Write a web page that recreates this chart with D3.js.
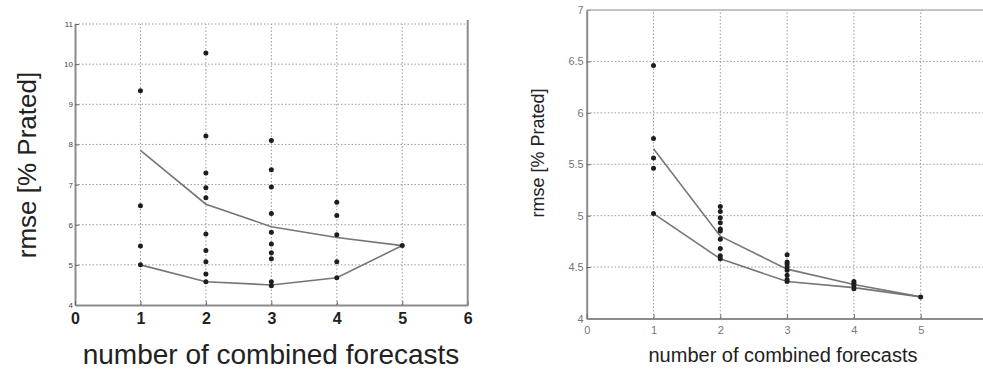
<!DOCTYPE html>
<html>
<head>
<meta charset="utf-8">
<script src="https://cdn.jsdelivr.net/npm/d3@7"></script>
<style>
  body { margin: 0; background: #fff; }
  svg { display: block; }
  text { font-family: "Liberation Sans", Arial, sans-serif; }
</style>
</head>
<body>
<svg id="chart" width="983" height="369"></svg>
<script>
// x positions (number of combined forecasts)
const combos = [1, 2, 3, 4, 5];

// left panel: individual combinations per count, plus the two curves
const leftDots1 = [9.34, 6.47, 5.47, 5.0];
const leftDots2 = [10.28, 8.21, 7.29, 6.92, 6.67, 5.77, 5.36, 5.08, 4.77, 4.58];
const leftDots3 = [8.1, 7.37, 6.94, 6.28, 5.81, 5.52, 5.3, 5.15, 4.58, 4.48];
const leftDots4 = [6.56, 6.23, 5.75, 5.08, 4.68];
const leftDots5 = [5.48];
const leftMean = [7.85, 6.51, 5.95, 5.68, 5.48];
const leftMin = [5.0, 4.58, 4.5, 4.68, 5.48];
const leftXTicks = [0, 1, 2, 3, 4, 5, 6];
const leftYTicks = [4, 5, 6, 7, 8, 9, 10, 11];

// right panel
const rightDots1 = [6.46, 5.75, 5.56, 5.46, 5.02];
const rightDots2 = [5.09, 5.04, 4.98, 4.93, 4.87, 4.85, 4.77, 4.68, 4.61, 4.58];
const rightDots3 = [4.62, 4.55, 4.53, 4.5, 4.47, 4.42, 4.38, 4.36];
const rightDots4 = [4.36, 4.34, 4.32, 4.29];
const rightDots5 = [4.21];
const rightMean = [5.65, 4.80, 4.48, 4.33, 4.21];
const rightMin = [5.02, 4.58, 4.36, 4.30, 4.21];
const rightXTicks = [0, 1, 2, 3, 4, 5];
const rightYTicks = [4, 4.5, 5, 5.5, 6, 6.5, 7];

const yLabel = "rmse [% Prated]";
const xLabel = "number of combined forecasts";

const svg = d3.select("#chart");

function drawPanel(cfg) {
  const x = d3.scaleLinear().domain([0, 6]).range([cfg.left, cfg.right]);
  const y = d3.scaleLinear().domain(cfg.yDomain).range([cfg.bottom, cfg.top]);
  const g = svg.append("g");

  // dotted grid
  g.append("g")
    .selectAll("line.gx")
    .data(combos)
    .enter().append("line")
    .attr("x1", d => x(d)).attr("x2", d => x(d))
    .attr("y1", cfg.bottom).attr("y2", cfg.top)
    .attr("stroke", "#9a9a9a").attr("stroke-width", 1)
    .attr("stroke-dasharray", "1.5,2");
  g.append("g")
    .selectAll("line.gy")
    .data(cfg.yTicks.filter(d => d > cfg.yDomain[0] && (cfg.topGrid || d < cfg.yDomain[1])))
    .enter().append("line")
    .attr("x1", cfg.left).attr("x2", cfg.right)
    .attr("y1", d => y(d)).attr("y2", d => y(d))
    .attr("stroke", "#9a9a9a").attr("stroke-width", 1)
    .attr("stroke-dasharray", "1.5,2");

  // axes (ticks point inward, matlab style)
  const yAxis = g.append("g")
    .attr("transform", "translate(" + cfg.left + ",0)")
    .call(d3.axisLeft(y).tickValues(cfg.yTicks).tickSizeInner(-4).tickSizeOuter(0)
      .tickPadding(cfg.yPad).tickFormat(d3.format("")));
  yAxis.select(".domain").attr("stroke", "#8c8c8c").attr("stroke-width", 2);
  yAxis.selectAll(".tick line").attr("stroke", "#666");
  yAxis.selectAll("text").attr("fill", cfg.tickColor).style("font-size", cfg.yTickSize + "px");

  const xAxis = g.append("g")
    .attr("transform", "translate(0," + cfg.bottom + ")")
    .call(d3.axisBottom(x).tickValues(cfg.xTicks).tickSizeInner(-4).tickSizeOuter(0)
      .tickPadding(cfg.xPad).tickFormat(d3.format("d")));
  xAxis.select(".domain").attr("stroke", "#8c8c8c").attr("stroke-width", 2);
  xAxis.selectAll(".tick line").attr("stroke", "#666");
  xAxis.selectAll("text").attr("fill", cfg.xTickColor)
    .style("font-size", cfg.xTickSize + "px").style("font-weight", cfg.xTickWeight);

  // box edges
  if (cfg.rightBorder) {
    g.append("line").attr("x1", cfg.right).attr("x2", cfg.right)
      .attr("y1", cfg.bottom + 1).attr("y2", cfg.top - 4)
      .attr("stroke", "#8c8c8c").attr("stroke-width", 2);
  }
  if (cfg.topBorder) {
    g.append("line").attr("x1", cfg.left).attr("x2", cfg.right)
      .attr("y1", cfg.top).attr("y2", cfg.top)
      .attr("stroke", "#b0b0b0").attr("stroke-width", 1.5);
  }

  // curves
  const line = d3.line().x((d, i) => x(combos[i])).y(d => y(d));
  [cfg.mean, cfg.min].forEach(s => {
    g.append("path").datum(s).attr("d", line)
      .attr("fill", "none").attr("stroke", "#767676").attr("stroke-width", 1.6);
  });

  // dots
  cfg.dots.forEach((vals, i) => {
    g.append("g").selectAll("circle")
      .data(vals)
      .enter().append("circle")
      .attr("cx", x(combos[i])).attr("cy", d => y(d))
      .attr("r", cfg.r).attr("fill", "#1e1e1e");
  });

  // labels
  g.append("text")
    .attr("transform", "translate(" + cfg.yLabelX + "," + cfg.yLabelY + ") rotate(-90)")
    .attr("text-anchor", "middle").attr("fill", "#222")
    .style("font-size", cfg.labelSizeY + "px")
    .text(yLabel);
  g.append("text")
    .attr("x", cfg.xLabelX).attr("y", cfg.xLabelY)
    .attr("text-anchor", "middle").attr("fill", "#222")
    .style("font-size", cfg.labelSizeX + "px")
    .text(xLabel);
}

drawPanel({
  left: 75, right: 467.7, top: 24, bottom: 305,
  yDomain: [4, 11], yTicks: leftYTicks, xTicks: leftXTicks,
  dots: [leftDots1, leftDots2, leftDots3, leftDots4, leftDots5],
  mean: leftMean, min: leftMin, r: 2.5,
  topGrid: true, rightBorder: true, topBorder: false,
  yPad: 2, yTickSize: 8, tickColor: "#444",
  xPad: 8, xTickSize: 16, xTickColor: "#222", xTickWeight: "bold",
  yLabelX: 36, yLabelY: 165, labelSizeY: 26,
  xLabelX: 271, xLabelY: 364, labelSizeX: 28
});

drawPanel({
  left: 586.7, right: 987.5, top: 10, bottom: 318.5,
  yDomain: [4, 7], yTicks: rightYTicks, xTicks: rightXTicks,
  dots: [rightDots1, rightDots2, rightDots3, rightDots4, rightDots5],
  mean: rightMean, min: rightMin, r: 2.5,
  topGrid: false, rightBorder: false, topBorder: true,
  yPad: 3, yTickSize: 11, tickColor: "#777",
  xPad: 8, xTickSize: 11, xTickColor: "#777", xTickWeight: "normal",
  yLabelX: 544, yLabelY: 153, labelSizeY: 18,
  xLabelX: 783, xLabelY: 362, labelSizeX: 20
});
</script>
</body>
</html>
